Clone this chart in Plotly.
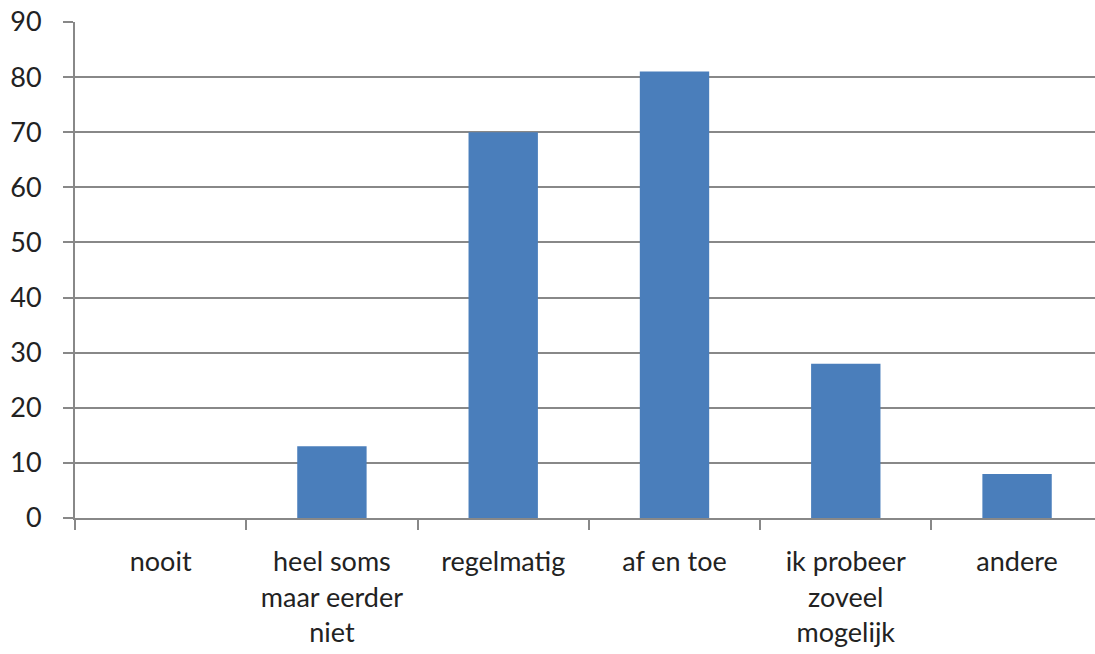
import plotly.graph_objects as go

# Survey answers and their counts
categories = ["nooit", "heel soms\nmaar eerder\nniet", "regelmatig", "af en toe",
              "ik probeer\nzoveel\nmogelijk", "andere"]
counts = [0, 13, 70, 81, 28, 8]
y_ticks = [0, 10, 20, 30, 40, 50, 60, 70, 80, 90]

labels = [c.replace("\n", "<br>") for c in categories]

FONT = "Lato, 'Open Sans', sans-serif"
GRID = "#888888"
TEXT = "#222222"

fig = go.Figure(
    go.Bar(
        x=labels,
        y=counts,
        marker=dict(color="#4a7ebb", line=dict(width=0)),
        width=0.405,
        hoverinfo="x+y",
    )
)

fig.update_layout(
    width=1095,
    height=654,
    margin=dict(l=75, r=0, t=22, b=136),
    paper_bgcolor="white",
    plot_bgcolor="white",
    showlegend=False,
    font=dict(family=FONT, size=27, color=TEXT),
)

fig.update_xaxes(
    type="category",
    range=[-0.5, 5.455],
    tickson="boundaries",
    ticks="outside",
    ticklen=10,
    tickwidth=2,
    tickcolor=GRID,
    showline=True,
    linecolor=GRID,
    linewidth=2,
    showgrid=False,
    tickangle=0,
    ticklabelstandoff=19,
    tickfont=dict(family=FONT, size=27, color=TEXT),
)

fig.update_yaxes(
    range=[0, 90],
    tickvals=y_ticks,
    ticks="outside",
    ticklen=10,
    tickwidth=2,
    tickcolor=GRID,
    showline=True,
    linecolor=GRID,
    linewidth=2,
    showgrid=True,
    gridcolor=GRID,
    gridwidth=2,
    zeroline=False,
    ticklabelstandoff=16,
    tickfont=dict(family=FONT, size=27, color=TEXT),
)

fig.write_html("out.html")
